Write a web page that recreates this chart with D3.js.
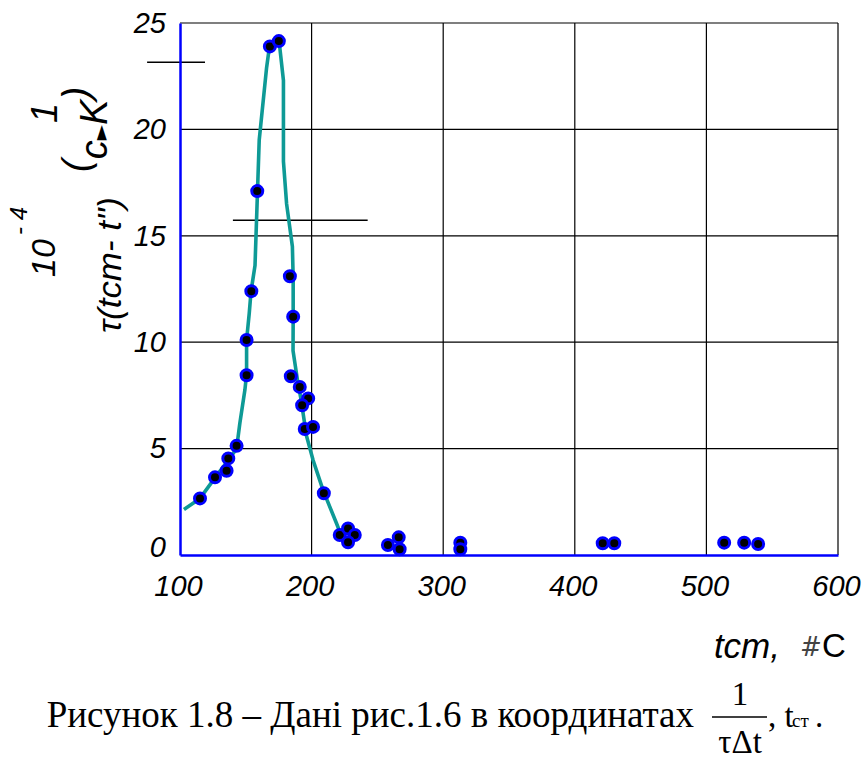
<!DOCTYPE html>
<html>
<head>
<meta charset="utf-8">
<script src="https://cdn.jsdelivr.net/npm/d3@7"></script>
<style>
  body { margin: 0; background: #fff; }
  svg { display: block; }
</style>
</head>
<body>
<div id="chart"></div>
<script>
// data
const tCm = [115.2, 126.6, 135.4, 136.7, 143, 150.6, 150.6, 154.2, 158.7, 168.3, 175.1,
  183.5, 186, 184.2, 191, 197.4, 192.8, 194.8, 201.1, 209.3, 221.4, 227.7, 232.8, 227.7,
  258, 266.2, 266.9, 313, 313, 421.2, 430, 513.5, 528.7, 539.3];
const rate = [2.66, 3.65, 3.96, 4.54, 5.13, 8.45, 10.1, 12.4, 17.1, 23.9, 24.15,
  13.1, 11.2, 8.4, 7.9, 7.36, 7.04, 5.92, 6.02, 2.9, 0.94, 1.25, 0.94, 0.6,
  0.47, 0.83, 0.27, 0.58, 0.27, 0.55, 0.55, 0.58, 0.58, 0.52];

// hand-drawn fitted curve
const curveX = [103, 115.2, 125.3, 136.7, 143, 145.5, 149.3, 150.6, 150.6, 152.6, 154, 157,
  158.9, 160.2, 165.8, 168, 175.3, 178.6, 178.6, 181, 185.4, 186, 186, 185.9, 189.3, 192,
  196.1, 201.1, 208.7, 218.9, 221.4];
const curveY = [2.14, 2.66, 3.52, 4.46, 5.0, 6.2, 7.75, 8.5, 10.1, 11.35, 12.4, 13.6,
  17.1, 19.5, 22.9, 23.9, 24.15, 22.3, 18.5, 16.5, 14.5, 13, 11.2, 9.6, 8.2, 7.3,
  5.6, 4.46, 3.05, 1.49, 1.1];

// stray horizontal strokes in the original [x1, x2, y]
const strokes = [[75, 119, 23.15], [140.2, 242.6, 15.73]];

const xTicks = [100, 200, 300, 400, 500, 600];
const yTicks = [0, 5, 10, 15, 20, 25];

const W = 864, H = 760;
const svg = d3.select("#chart").append("svg")
  .attr("width", W)
  .attr("height", H);

const x = d3.scaleLinear().domain([100, 600]).range([180, 838]);
const y = d3.scaleLinear().domain([0, 25]).range([555, 23]);

const numFont = "'Liberation Sans', Arial, sans-serif";

// grid
svg.append("g")
  .selectAll("line")
  .data(yTicks.filter(d => d > 0))
  .join("line")
  .attr("x1", x(100)).attr("x2", x(600))
  .attr("y1", d => y(d)).attr("y2", d => y(d))
  .attr("stroke", "#000").attr("stroke-width", 1.2);

svg.append("g")
  .selectAll("line")
  .data(xTicks.filter(d => d > 100))
  .join("line")
  .attr("x1", d => x(d)).attr("x2", d => x(d))
  .attr("y1", y(0)).attr("y2", y(25))
  .attr("stroke", "#000").attr("stroke-width", 1.2);

svg.append("g")
  .selectAll("line")
  .data(strokes)
  .join("line")
  .attr("x1", d => x(d[0])).attr("x2", d => x(d[1]))
  .attr("y1", d => y(d[2])).attr("y2", d => y(d[2]))
  .attr("stroke", "#000").attr("stroke-width", 1.5);

// blue axes
const xAxis = svg.append("g")
  .attr("transform", `translate(0,${y(0)})`)
  .call(d3.axisBottom(x).tickValues(xTicks).tickSize(0).tickPadding(20));
xAxis.select(".domain").attr("stroke", "#0000ff").attr("stroke-width", 2.5);
xAxis.selectAll("text")
  .attr("font-family", numFont)
  .attr("font-style", "italic")
  .attr("font-size", 29)
  .attr("fill", "#000")
  .attr("dx", -2);

const yAxis = svg.append("g")
  .attr("transform", `translate(${x(100)},0)`)
  .call(d3.axisLeft(y).tickValues(yTicks).tickSize(0).tickPadding(14));
yAxis.select(".domain").attr("stroke", "#0000ff").attr("stroke-width", 2.5);
yAxis.selectAll("text")
  .attr("font-family", numFont)
  .attr("font-style", "italic")
  .attr("font-size", 29)
  .attr("fill", "#000")
  .attr("dy", d => d === 0 ? "0.05em" : "0.32em");

// curve
const line = d3.line()
  .x((d, i) => x(curveX[i]))
  .y(d => y(d));
svg.append("path")
  .datum(curveY)
  .attr("d", line)
  .attr("fill", "none")
  .attr("stroke", "#0e9a96")
  .attr("stroke-width", 3.6)
  .attr("stroke-linejoin", "round");

// markers
svg.append("g")
  .selectAll("circle")
  .data(tCm)
  .join("circle")
  .attr("cx", d => x(d))
  .attr("cy", (d, i) => y(rate[i]))
  .attr("r", 5.5)
  .attr("fill", "#000")
  .attr("stroke", "#0000ff")
  .attr("stroke-width", 3);

// y axis title, in pieces as in the original
const rot = (px, py) => `translate(${px},${py}) rotate(-90)`;
svg.append("text").attr("transform", rot(55, 258))
  .attr("text-anchor", "middle")
  .attr("font-family", numFont).attr("font-style", "italic").attr("font-size", 34)
  .text("10");
svg.append("text").attr("transform", rot(27, 221))
  .attr("text-anchor", "middle")
  .attr("font-family", numFont).attr("font-style", "italic").attr("font-size", 24)
  .text("- 4");
svg.append("text").attr("transform", rot(121, 333))
  .attr("font-family", numFont).attr("font-style", "italic").attr("font-size", 34)
  .attr("textLength", 136).attr("lengthAdjust", "spacingAndGlyphs")
  .text("τ(tcm- t\")");
const ck = svg.append("text").attr("transform", rot(107, 172))
  .attr("font-family", numFont).attr("font-style", "italic").attr("font-size", 38);
ck.append("tspan").attr("dy", -18).text("(");
ck.append("tspan").attr("dy", 18).text("c");
ck.append("tspan").attr("font-size", 20).attr("font-style", "normal")
  .attr("font-family", "'DejaVu Sans'").text("►");
ck.append("tspan").text("K");
ck.append("tspan").attr("dy", -18).text(")");
svg.append("text").attr("transform", rot(57, 113))
  .attr("text-anchor", "middle")
  .attr("font-family", numFont).attr("font-style", "italic").attr("font-size", 36)
  .text("1");

// x axis title
svg.append("text")
  .attr("x", 780).attr("y", 658)
  .attr("text-anchor", "end")
  .attr("font-family", numFont).attr("font-style", "italic").attr("font-size", 35)
  .text("tcm,");
svg.append("text")
  .attr("x", 800).attr("y", 656)
  .attr("font-family", "'DejaVu Sans'").attr("font-style", "italic")
  .attr("font-weight", 200).attr("font-size", 26).attr("fill", "#444")
  .text("#");
svg.append("text")
  .attr("x", 822).attr("y", 657)
  .attr("font-family", numFont).attr("font-size", 33)
  .text("C");

// caption
const serif = "'Liberation Serif', 'Times New Roman', serif";
svg.append("text")
  .attr("x", 694).attr("y", 727)
  .attr("text-anchor", "end")
  .attr("font-family", serif).attr("font-size", 37)
  .text("Рисунок 1.8 – Дані рис.1.6 в координатах");
svg.append("text")
  .attr("x", 740).attr("y", 705)
  .attr("text-anchor", "middle")
  .attr("font-family", serif).attr("font-size", 33)
  .text("1");
svg.append("line")
  .attr("x1", 712).attr("x2", 767).attr("y1", 717).attr("y2", 717)
  .attr("stroke", "#000").attr("stroke-width", 1.6);
svg.append("text")
  .attr("x", 740).attr("y", 753)
  .attr("text-anchor", "middle")
  .attr("font-family", serif).attr("font-size", 33)
  .text("τΔt");
const tail = svg.append("text")
  .attr("x", 768).attr("y", 727)
  .attr("font-family", serif).attr("font-size", 33);
tail.append("tspan").text(", t");
tail.append("tspan").attr("x", 792).attr("font-size", 19).text("ст");
tail.append("tspan").attr("x", 815).text(".");
</script>
</body>
</html>
